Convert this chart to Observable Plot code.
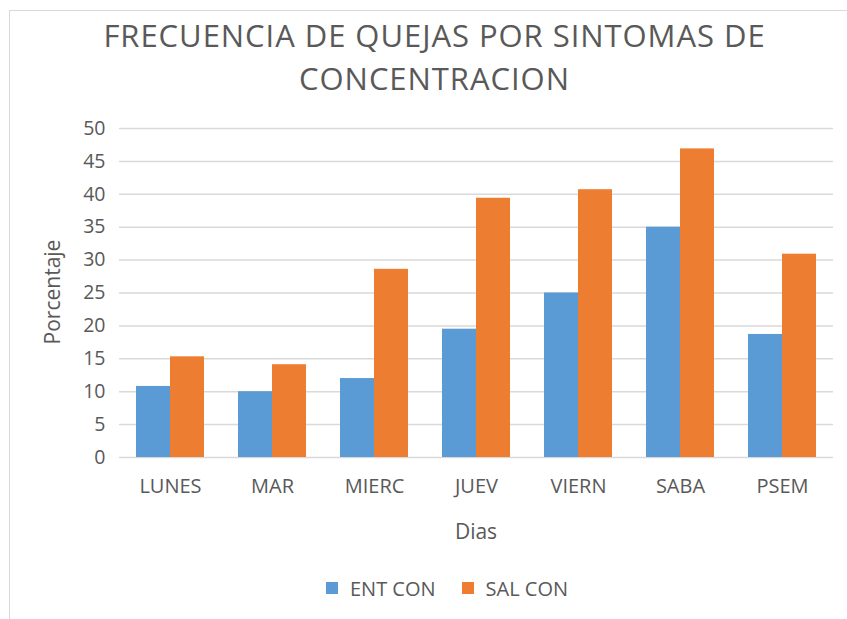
<!DOCTYPE html>
<html>
<head>
<meta charset="utf-8">
<script src="https://cdn.jsdelivr.net/npm/d3@7"></script>
<script src="https://cdn.jsdelivr.net/npm/@observablehq/plot@0.6"></script>
<style>
  html, body { margin: 0; padding: 0; background: #fff; }
  body { width: 847px; height: 619px; position: relative; overflow: hidden; font-family: "Open Sans", sans-serif; color: #595959; }
  #frame { position: absolute; left: 9px; top: 10px; width: 900px; height: 700px; border-left: 1px solid #d9d9d9; border-top: 1px solid #d9d9d9; }
  #title { position: absolute; left: 10px; width: 849px; top: 14px; text-align: center; font-size: 31px; letter-spacing: 0.95px; line-height: 43px; color: #595959; }
  #chart { position: absolute; left: 0; top: 100px; }
  #ylabel { position: absolute; left: 52px; top: 292px; transform: translate(-50%, -50%) rotate(-90deg); font-size: 21px; white-space: nowrap; }
  #xlabel { position: absolute; left: 476px; top: 531px; transform: translate(-50%, -50%); font-size: 21px; white-space: nowrap; }
  #legend { position: absolute; top: 573px; left: 0; width: 894px; text-align: center; font-size: 20px; color: #595959; }
  #legend span.item { display: inline-flex; align-items: center; margin: 0 13px; }
  #legend span.sw { display: inline-block; width: 12px; height: 12px; margin-right: 12px; }
</style>
</head>
<body>
<div id="frame"></div>
<div id="title">FRECUENCIA DE QUEJAS POR SINTOMAS DE<br>CONCENTRACION</div>
<div id="chart"></div>
<div id="ylabel">Porcentaje</div>
<div id="xlabel">Dias</div>
<div id="legend"></div>
<script>
const days = ["LUNES", "MAR", "MIERC", "JUEV", "VIERN", "SABA", "PSEM"];
const seriesNames = ["ENT CON", "SAL CON"];
const entCon = [10.8, 10.0, 12.0, 19.5, 25.0, 35.0, 18.7];
const salCon = [15.3, 14.1, 28.6, 39.4, 40.7, 46.9, 30.9];
const colors = ["#5B9BD5", "#ED7D31"];
const yTicks = [0, 5, 10, 15, 20, 25, 30, 35, 40, 45, 50];

const data = [];
days.forEach((d, i) => {
  data.push({day: d, series: seriesNames[0], value: entCon[i]});
  data.push({day: d, series: seriesNames[1], value: salCon[i]});
});

const chart = Plot.plot({
  width: 847,
  height: 460,
  marginTop: 28,
  marginBottom: 103,
  marginLeft: 119,
  marginRight: 14,
  style: {fontFamily: "Open Sans", color: "#595959", background: "transparent"},
  fx: {domain: days, padding: 0},
  x: {domain: seriesNames, paddingInner: 0, paddingOuter: 0.5, axis: null},
  y: {domain: [0, 50]},
  color: {domain: seriesNames, range: colors},
  marks: [
    Plot.gridY(yTicks, {stroke: "#d9d9d9", strokeOpacity: 1, strokeWidth: 1.5}),
    Plot.barY(data, {fx: "day", x: "series", y: "value", fill: "series", inset: 0}),
    Plot.axisY(yTicks, {tickSize: 0, tickPadding: 14, fontSize: 19.5, fill: "#595959", label: null, tickFormat: d => d}),
    Plot.axisFx({anchor: "bottom", tickSize: 0, tickPadding: 21, fontSize: 20, fill: "#595959", label: null})
  ]
});
document.getElementById("chart").appendChild(chart);

const legend = document.getElementById("legend");
seriesNames.forEach((s, i) => {
  const item = document.createElement("span");
  item.className = "item";
  const sw = document.createElement("span");
  sw.className = "sw";
  sw.style.background = colors[i];
  item.appendChild(sw);
  item.appendChild(document.createTextNode(s));
  legend.appendChild(item);
});
</script>
</body>
</html>
